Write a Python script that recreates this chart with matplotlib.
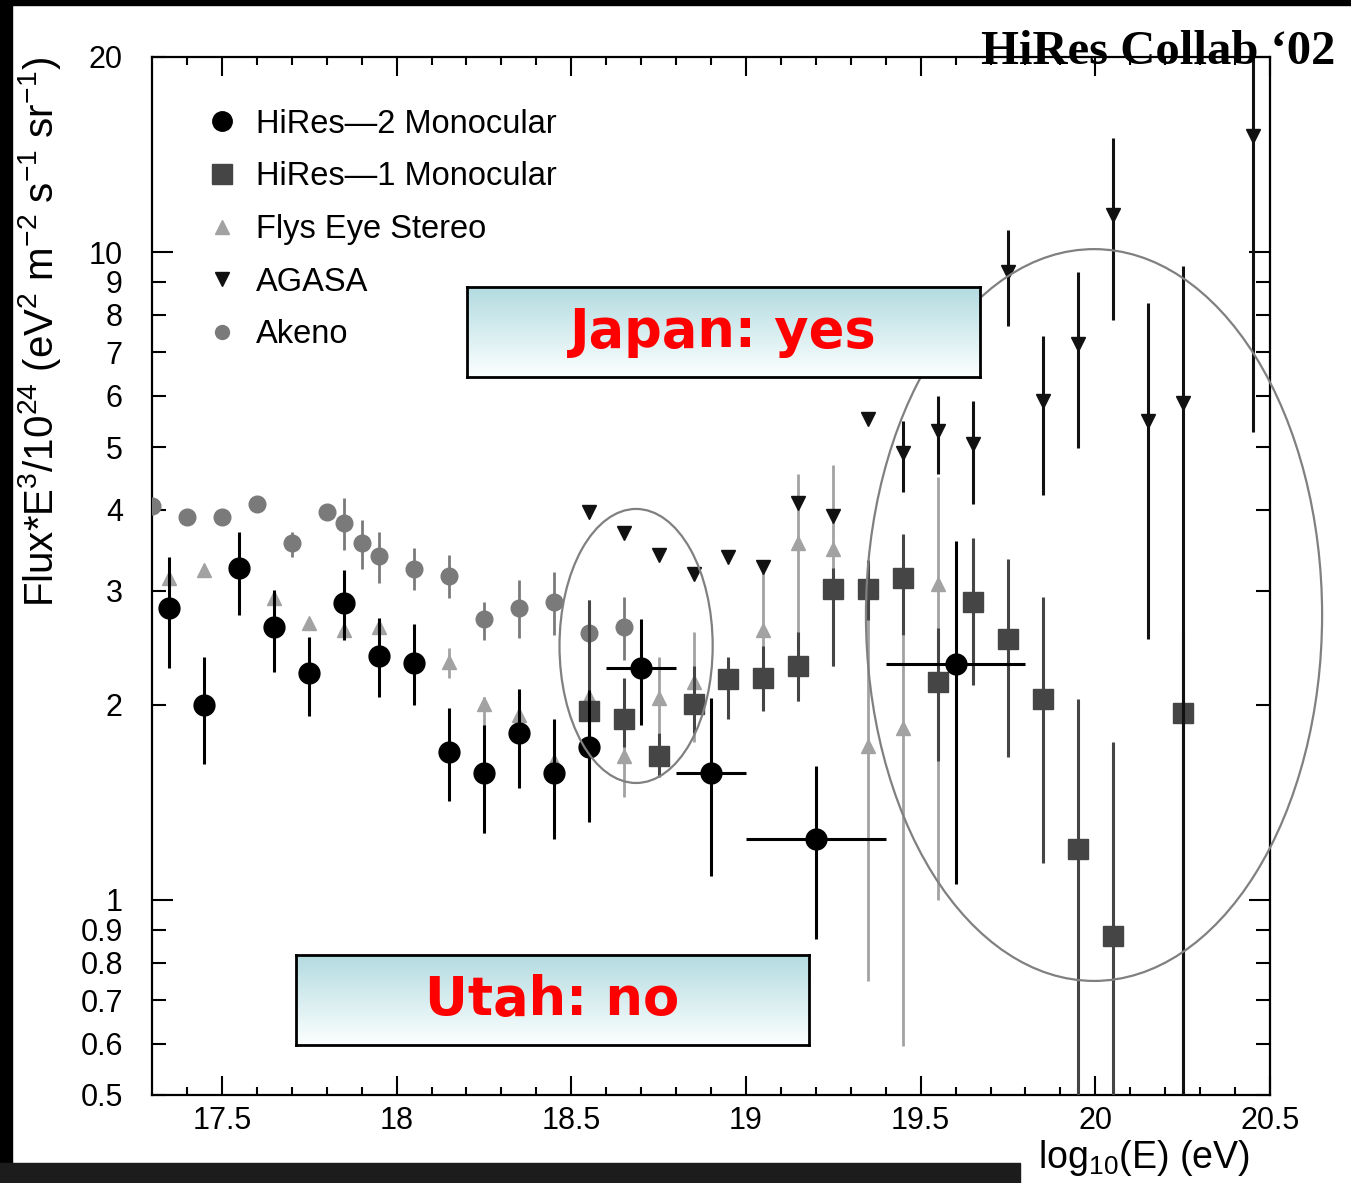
import numpy as np
import matplotlib
matplotlib.use('Agg')
import matplotlib.pyplot as plt
from matplotlib.patches import Ellipse, Rectangle
from matplotlib.lines import Line2D
from matplotlib.ticker import FixedLocator, FuncFormatter

plt.rcParams['font.family'] = ['Liberation Sans', 'DejaVu Sans']
plt.rcParams['mathtext.fontset'] = 'custom'
plt.rcParams['mathtext.rm'] = 'Liberation Sans'
plt.rcParams['mathtext.it'] = 'Liberation Sans:italic'

# HiRes-2 monocular (energy bins, flux, error bar ends, energy bin ends)
hr2_x = [17.35, 17.45, 17.55, 17.65, 17.75, 17.85, 17.95, 18.05, 18.15, 18.25,
         18.35, 18.45, 18.55, 18.7, 18.9, 19.2, 19.6]
hr2_y = [2.82, 2.00, 3.25, 2.64, 2.24, 2.87, 2.38, 2.32, 1.69, 1.57,
         1.81, 1.57, 1.72, 2.28, 1.57, 1.24, 2.31]
hr2_lo = [2.28, 1.62, 2.75, 2.25, 1.92, 2.52, 2.06, 2.00, 1.42, 1.27,
          1.49, 1.24, 1.32, 1.86, 1.09, 0.87, 1.06]
hr2_hi = [3.38, 2.37, 3.70, 3.01, 2.55, 3.23, 2.72, 2.67, 1.98, 1.86,
          2.12, 1.90, 2.11, 2.71, 2.05, 1.61, 3.58]
hr2_xlo = [17.35, 17.45, 17.55, 17.65, 17.75, 17.85, 17.95, 18.05, 18.15, 18.25,
           18.35, 18.45, 18.55, 18.6, 18.8, 19.0, 19.4]
hr2_xhi = [17.35, 17.45, 17.55, 17.65, 17.75, 17.85, 17.95, 18.05, 18.15, 18.25,
           18.35, 18.45, 18.55, 18.8, 19.0, 19.4, 19.8]

# HiRes-1 monocular
hr1_x = [18.55, 18.65, 18.75, 18.85, 18.95, 19.05, 19.15, 19.25, 19.35, 19.45,
         19.55, 19.65, 19.75, 19.85, 19.95, 20.05, 20.25]
hr1_y = [1.96, 1.90, 1.67, 2.01, 2.19, 2.20, 2.30, 3.02, 3.02, 3.14,
         2.17, 2.88, 2.53, 2.04, 1.20, 0.88, 1.94]
hr1_lo = [1.72, 1.72, 1.55, 1.81, 1.90, 1.96, 2.03, 2.30, 2.70, 2.56,
          1.64, 2.15, 1.66, 1.14, 0.40, 0.40, 0.40]
hr1_hi = [2.90, 2.20, 1.81, 2.30, 2.37, 2.47, 2.59, 3.25, 3.35, 3.67,
          2.63, 3.62, 3.36, 2.93, 2.04, 1.75, 2.60]

# Fly's Eye stereo
fe_x = [17.35, 17.45, 17.65, 17.75, 17.85, 17.95, 18.15, 18.25, 18.35, 18.45,
        18.55, 18.65, 18.75, 18.85, 19.05, 19.15, 19.25, 19.35, 19.45, 19.55]
fe_y = [3.14, 3.23, 2.92, 2.68, 2.61, 2.64, 2.33, 2.01, 1.93, 1.64,
        2.06, 1.67, 2.05, 2.17, 2.61, 3.56, 3.48, 1.73, 1.84, 3.07]
fe_lo = [3.14, 3.23, 2.92, 2.68, 2.61, 2.64, 2.20, 1.27, 1.93, 1.64,
         2.06, 1.44, 1.81, 1.75, 2.03, 2.03, 2.30, 0.75, 0.595, 1.00]
fe_hi = [3.14, 3.23, 2.92, 2.68, 2.61, 2.64, 2.45, 2.06, 1.93, 1.64,
         2.06, 1.90, 2.37, 2.59, 3.25, 4.55, 4.69, 3.09, 2.56, 4.50]

# AGASA
ag_x = [18.55, 18.65, 18.75, 18.85, 18.95, 19.05, 19.15, 19.25, 19.35, 19.45,
        19.55, 19.65, 19.75, 19.85, 19.95, 20.05, 20.15, 20.25, 20.45]
ag_y = [3.97, 3.68, 3.41, 3.19, 3.38, 3.26, 4.10, 3.91, 5.53, 4.89,
        5.29, 5.05, 9.30, 5.89, 7.21, 11.4, 5.49, 5.84, 15.1]
ag_lo = [3.97, 3.68, 3.41, 3.19, 3.38, 3.26, 4.10, 3.91, 5.53, 4.26,
         4.55, 4.08, 7.68, 4.22, 4.98, 7.86, 2.53, 0.40, 5.28]
ag_hi = [3.97, 3.68, 3.41, 3.19, 3.38, 3.26, 4.10, 3.91, 5.53, 5.49,
         6.00, 5.89, 10.8, 7.42, 9.30, 15.0, 8.34, 9.50, 25.0]

# Akeno
ak_x = [17.3, 17.4, 17.5, 17.6, 17.7, 17.8, 17.85, 17.9, 17.95, 18.05,
        18.15, 18.25, 18.35, 18.45, 18.55, 18.65]
ak_y = [4.05, 3.90, 3.90, 4.08, 3.55, 3.97, 3.82, 3.55, 3.39, 3.24,
        3.16, 2.71, 2.82, 2.88, 2.58, 2.64]
ak_lo = [4.05, 3.90, 3.90, 4.08, 3.38, 3.97, 3.47, 3.24, 3.08, 3.01,
         2.92, 2.52, 2.54, 2.56, 2.30, 2.35]
ak_hi = [4.05, 3.90, 3.90, 4.08, 3.70, 3.97, 4.17, 3.86, 3.70, 3.49,
         3.41, 2.88, 3.12, 3.21, 2.90, 2.93]

legend_labels = ['HiRes—2 Monocular', 'HiRes—1 Monocular', 'Flys Eye Stereo', 'AGASA', 'Akeno']
x_major = [17.5, 18, 18.5, 19, 19.5, 20, 20.5]
y_major = [1, 10]
y_minor = [0.5, 0.6, 0.7, 0.8, 0.9, 2, 3, 4, 5, 6, 7, 8, 9, 20]


def yerr(y, lo, hi):
    y, lo, hi = np.array(y), np.array(lo), np.array(hi)
    return [y - lo, hi - y]


W, H = 1351, 1183
fig = plt.figure(figsize=(W / 100, H / 100), dpi=100)
fig.patch.set_facecolor('white')

# dark frame around the slide
fig.add_artist(Rectangle((0, 0), 12 / W, 1, transform=fig.transFigure, color='black', zorder=0))
fig.add_artist(Rectangle((0, 1 - 5 / H), 1, 5 / H, transform=fig.transFigure, color='black', zorder=0))
fig.add_artist(Rectangle((0, 0), 1020 / W, 20 / H, transform=fig.transFigure, color='#1c1c1c', zorder=0))

ax = fig.add_axes([152 / W, 1 - 1095 / H, 1118 / W, 1038 / H])
ax.set_yscale('log')

ax.errorbar(fe_x, fe_y, yerr=yerr(fe_y, fe_lo, fe_hi), fmt='^', color='#a2a2a2',
            ms=10, elinewidth=2.0, capsize=0, zorder=2)
ax.errorbar(ak_x, ak_y, yerr=yerr(ak_y, ak_lo, ak_hi), fmt='o', color='#7a7a7a',
            ms=12, elinewidth=2.0, capsize=0, zorder=3)
ax.errorbar(hr1_x, hr1_y, yerr=yerr(hr1_y, hr1_lo, hr1_hi), fmt='s', color='#454545',
            ms=15, elinewidth=2.2, capsize=0, zorder=4)
ax.errorbar(ag_x, ag_y, yerr=yerr(ag_y, ag_lo, ag_hi), fmt='v', color='#111111',
            ms=10, elinewidth=2.2, capsize=0, zorder=5)
hx = np.array(hr2_x)
ax.errorbar(hr2_x, hr2_y, yerr=yerr(hr2_y, hr2_lo, hr2_hi),
            xerr=[hx - np.array(hr2_xlo), np.array(hr2_xhi) - hx],
            fmt='o', color='black', ms=15, elinewidth=2.2, capsize=0, zorder=6)

ax.set_xlim(17.3, 20.5)
ax.set_ylim(0.5, 20)

# ticks
ax.xaxis.set_major_locator(FixedLocator(x_major))
ax.xaxis.set_minor_locator(FixedLocator(np.round(np.arange(17.4, 20.5, 0.1), 2)))
ax.xaxis.set_major_formatter(FuncFormatter(lambda v, p: f'{v:g}'))
ax.yaxis.set_major_locator(FixedLocator(y_major))
ax.yaxis.set_minor_locator(FixedLocator(y_minor))
ax.yaxis.set_major_formatter(FuncFormatter(lambda v, p: f'{v:g}'))
ax.yaxis.set_minor_formatter(FuncFormatter(lambda v, p: f'{v:g}'))
ax.tick_params(which='both', direction='in', top=True, right=True, width=1.5,
               labelsize=22, colors='black')
ax.tick_params(axis='x', which='major', length=14, pad=8)
ax.tick_params(axis='x', which='minor', length=6, pad=8)
ax.tick_params(axis='y', which='major', length=15, pad=21)
ax.tick_params(axis='y', which='minor', length=10, pad=21)
for s in ax.spines.values():
    s.set_linewidth(1.6)

# circled regions
ax.add_patch(Ellipse((0.433, 0.4326), 0.137, 0.264, transform=ax.transAxes, fill=False,
                     ec='#808080', lw=1.6, zorder=7))
ax.add_patch(Ellipse((0.8426, 0.4624), 0.408, 0.705, transform=ax.transAxes, fill=False,
                     ec='#808080', lw=1.6, zorder=7, clip_on=False))

handles = [
    Line2D([], [], ls='none', marker='o', color='black', ms=14),
    Line2D([], [], ls='none', marker='s', color='#454545', ms=14),
    Line2D([], [], ls='none', marker='^', color='#a2a2a2', ms=10),
    Line2D([], [], ls='none', marker='v', color='#111111', ms=10),
    Line2D([], [], ls='none', marker='o', color='#7a7a7a', ms=10),
]
ax.legend(handles, legend_labels, loc='upper left', bbox_to_anchor=(0.048, 0.950),
          frameon=False, fontsize=23.5, handlelength=1.0, handletextpad=0.54,
          labelspacing=0.66, borderpad=0, borderaxespad=0)

fig.text(40 / W, 1 - 332 / H,
         r'Flux*E$^{3}$/10$^{24}$ (eV$^{2}$ m$^{-2}$ s$^{-1}$ sr$^{-1}$)',
         rotation=90, ha='center', va='center', fontsize=29)
fig.text(1144 / W, 1 - 1158 / H, r'log$_{10}$(E) (eV)', ha='center', va='center', fontsize=27)
fig.text(1335 / W, 1 - 64 / H, 'HiRes Collab \u201802', ha='right', va='baseline',
         fontsize=35, fontweight='bold', family='Liberation Serif', zorder=10)

# shaded call-out boxes
grad = np.linspace(0, 1, 100)[:, None, None]
top_c = np.array([0.70, 0.86, 0.88])
bot_c = np.array([0.99, 1.0, 1.0])
grad_img = top_c * (1 - grad) + bot_c * grad

for (x0, y0, text) in [(467, 287, 'Japan: yes'), (296, 955, 'Utah: no')]:
    bax = fig.add_axes([x0 / W, 1 - (y0 + 90) / H, 513 / W, 90 / H])
    bax.imshow(grad_img, aspect='auto', extent=[0, 1, 0, 1])
    bax.set_xticks([])
    bax.set_yticks([])
    for s in bax.spines.values():
        s.set_linewidth(2)
    bax.text(0.5, 0.5, text, ha='center', va='center', color='#ff0000',
             fontsize=38, fontweight='bold', family='DejaVu Sans')

fig.savefig('out.png', dpi=100)
